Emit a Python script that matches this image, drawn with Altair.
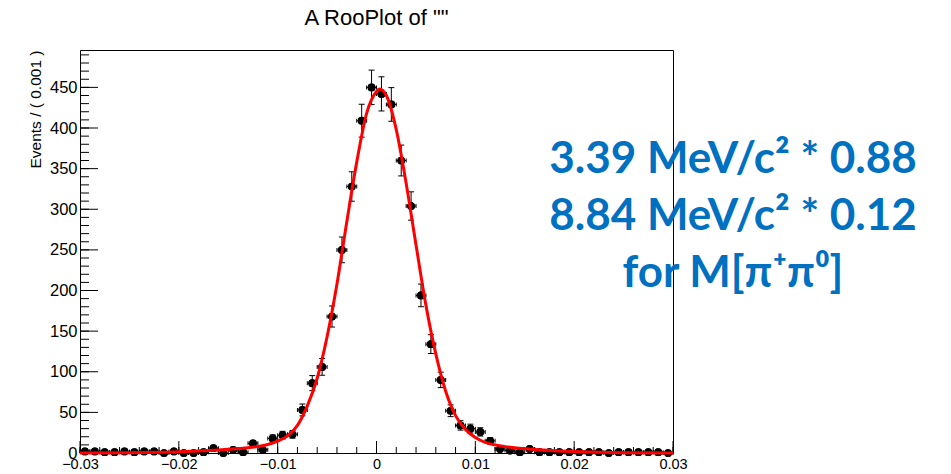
import altair as alt
import pandas as pd

# ---- data ----
bin_width = 0.001
counts = [2, 2, 1, 1, 2, 1, 2, 2, 0, 2, 0, 0,
          1, 6, 0, 4, 1, 12, 4, 18, 22, 23, 53, 86, 106, 168, 250, 328, 409, 450,
          442, 429, 360, 304, 194, 134, 90, 52, 34, 30, 26, 15, 5, 3, 1,
          5, 1, 1, 1, 1, 1, 1, 1, 0, 1, 1, 1, 1, 1, 0]
bin_centers = [round(-0.0295 + i * bin_width, 4) for i in range(len(counts))]

curve_x = [-0.030, -0.025, -0.020, -0.018, -0.016, -0.014, -0.012, -0.011, -0.010,
           -0.009, -0.008, -0.007, -0.006, -0.005, -0.004, -0.003, -0.002, -0.001,
           0.000, 0.0003, 0.001, 0.002, 0.003, 0.004, 0.005, 0.006, 0.007, 0.008,
           0.009, 0.010, 0.011, 0.012, 0.014, 0.016, 0.018, 0.020, 0.025, 0.030]
curve_y = [0.1, 0.4, 1.5, 2.5, 3.8, 5.5, 8, 10.5, 14.5,
           21, 34, 58, 92, 143, 208, 285, 358, 418,
           445, 448, 440, 398, 332, 256, 182, 122, 76, 46,
           29, 19, 13, 10, 6.5, 4.3, 2.8, 1.8, 0.4, 0.1]

y_major = [0, 50, 100, 150, 200, 250, 300, 350, 400, 450]
y_minor = list(range(0, 491, 10))
x_major = [-0.03, -0.02, -0.01, 0.0, 0.01, 0.02, 0.03]
x_minor = [round(-0.03 + 0.002 * i, 3) for i in range(31)]

note_lines = ["3.39 MeV/c\u00b2 * 0.88", "8.84 MeV/c\u00b2 * 0.12", "for M[\u03c0\u207a\u03c0\u2070]"]
title_text = 'A RooPlot of ""'
y_title = "Events / ( 0.001 )"

# ---- chart ----
W, H = 593, 403
FONT = "Liberation Sans"
xscale = alt.Scale(domain=[-0.03, 0.03], nice=False, zero=False)
yscale = alt.Scale(domain=[0, 496], nice=False, zero=False)

xaxis = alt.Axis(values=x_major, format=".2~f", ticks=False, tickSize=0, domain=False,
                 grid=False, labelFont=FONT, labelFontSize=14.5, labelPadding=4,
                 labelColor="black", labelFlush=False, labelOverlap=False, title=None)
yaxis = alt.Axis(values=y_major, ticks=False, tickSize=0, domain=False, grid=False,
                 labelFont=FONT, labelFontSize=16.5, labelPadding=3, labelColor="black",
                 labelOverlap=False, labelFlush=False,
                 title=y_title, titleFont=FONT, titleFontSize=15.5, titleFontWeight="normal",
                 titleColor="black", titleAnchor="end", titlePadding=6)


def X(f):
    return alt.X(f, type="quantitative", scale=xscale, axis=xaxis)


def Y(f):
    return alt.Y(f, type="quantitative", scale=yscale, axis=yaxis)


pts = pd.DataFrame({"x": bin_centers, "n": counts})
half = bin_width / 2
base = alt.Chart(pts).transform_calculate(
    lo="datum.n - sqrt(datum.n)",
    hi="datum.n + sqrt(datum.n)",
    xlo=f"datum.x - {half}",
    xhi=f"datum.x + {half}",
)

ymin_df = pd.DataFrame({"v": y_minor})
ymaj_df = pd.DataFrame({"v": y_major})
xmin_df = pd.DataFrame({"v": x_minor})
xmaj_df = pd.DataFrame({"v": x_major})

points = base.mark_circle(size=60, color="black", opacity=1).encode(x=X("x"), y=Y("n"))

y_minor_ticks = alt.Chart(ymin_df).mark_rule(color="black", strokeWidth=1).encode(
    y=Y("v"), x=alt.value(0), x2=alt.value(9))
y_major_ticks = alt.Chart(ymaj_df).mark_rule(color="black", strokeWidth=1).encode(
    y=Y("v"), x=alt.value(0), x2=alt.value(18))
x_minor_ticks = alt.Chart(xmin_df).mark_rule(color="black", strokeWidth=1).encode(
    x=X("v"), y=alt.value(H), y2=alt.value(H - 6))
x_major_ticks = alt.Chart(xmaj_df).mark_rule(color="black", strokeWidth=1).encode(
    x=X("v"), y=alt.value(H), y2=alt.value(H - 12))

xerr = base.mark_rule(color="black", strokeWidth=1).encode(x=X("xlo"), x2="xhi:Q", y=Y("n"))
xcap_lo = base.mark_tick(orient="vertical", size=4, thickness=1, color="black", opacity=1).encode(
    x=X("xlo"), y=Y("n"))
xcap_hi = base.mark_tick(orient="vertical", size=4, thickness=1, color="black", opacity=1).encode(
    x=X("xhi"), y=Y("n"))
yerr = base.mark_rule(color="black", strokeWidth=1).encode(x=X("x"), y=Y("lo"), y2="hi:Q")
ycap_lo = base.mark_tick(orient="horizontal", size=6, thickness=1, color="black", opacity=1).encode(
    x=X("x"), y=Y("lo"))
ycap_hi = base.mark_tick(orient="horizontal", size=6, thickness=1, color="black", opacity=1).encode(
    x=X("x"), y=Y("hi"))

curve = alt.Chart(pd.DataFrame({"x": curve_x, "y": curve_y})).mark_line(
    color="#ff0000", strokeWidth=3, interpolate="monotone").encode(x=X("x"), y=Y("y"))

note_y = [123, 180, 237]
notes = [
    alt.Chart(pd.DataFrame({"t": [txt]})).mark_text(
        font="Lato", fontSize=44, fontWeight="bold", color="#0070C0",
        align="center", baseline="alphabetic").encode(
        text="t:N", x=alt.value(653), y=alt.value(yy))
    for txt, yy in zip(note_lines, note_y)
]

chart = alt.layer(
    points, y_minor_ticks, y_major_ticks, x_minor_ticks, x_major_ticks,
    xerr, xcap_lo, xcap_hi, yerr, ycap_lo, ycap_hi, points, curve, *notes
).properties(
    width=W, height=H,
    title=alt.TitleParams(title_text, font=FONT, fontSize=22, fontWeight="normal",
                          color="black", anchor="middle", frame="group",
                          baseline="alphabetic", offset=3),
    autosize=alt.AutoSizeParams(type="none"),
    padding={"left": 72, "top": 42, "right": 270, "bottom": 18},
).configure_view(stroke="black", strokeWidth=1)

chart.save("out.html", embed_options={"renderer": "svg", "actions": False})
